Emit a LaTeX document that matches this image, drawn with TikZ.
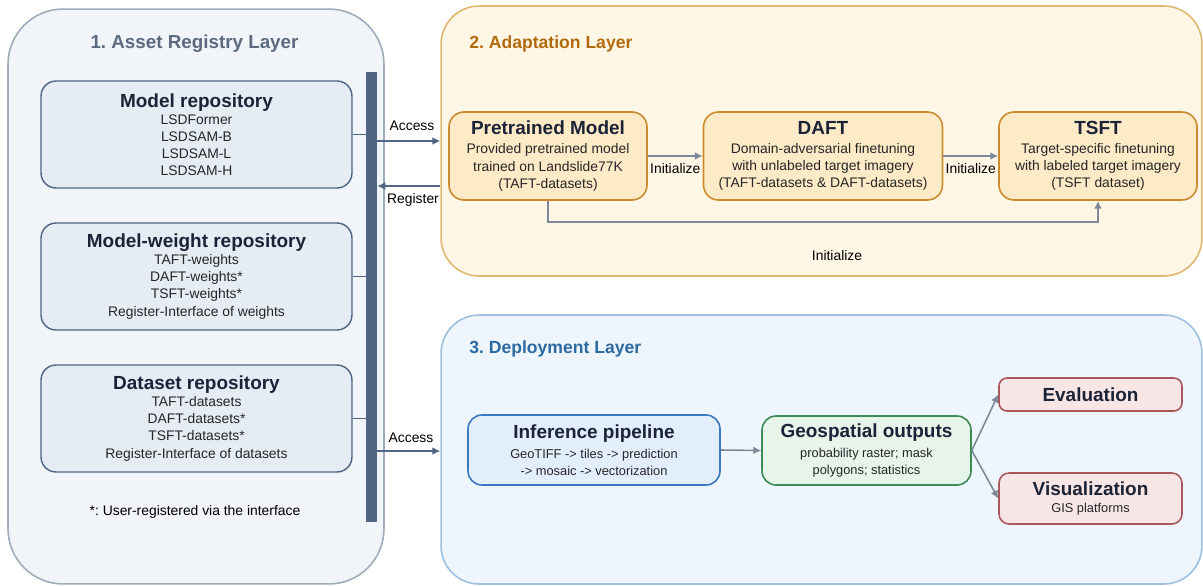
\documentclass[tikz,border=0pt]{standalone}
\usepackage{fontspec}
\setmainfont{Liberation Sans}
\usetikzlibrary{arrows.meta}
\frenchspacing

\definecolor{regfill}{HTML}{F1F5FA}
\definecolor{regline}{HTML}{9EABBB}
\definecolor{regtxt}{HTML}{5B6A7E}
\definecolor{repofill}{HTML}{E6ECF4}
\definecolor{slate}{HTML}{4F6582}
\definecolor{adfill}{HTML}{FFF6E6}
\definecolor{adline}{HTML}{E0B76E}
\definecolor{adtxt}{HTML}{B26B0B}
\definecolor{stepfill}{HTML}{FDEBC8}
\definecolor{stepline}{HTML}{CB8A2D}
\definecolor{depfill}{HTML}{EEF5FD}
\definecolor{depline}{HTML}{9DC0E0}
\definecolor{deptxt}{HTML}{2C6AA1}
\definecolor{inffill}{HTML}{E3EEFC}
\definecolor{infline}{HTML}{3B78BD}
\definecolor{geofill}{HTML}{E7F4EA}
\definecolor{geoline}{HTML}{3F8B58}
\definecolor{evfill}{HTML}{F8E6E6}
\definecolor{evline}{HTML}{A8585B}
\definecolor{headtxt}{HTML}{1C2337}
\definecolor{bodytxt}{HTML}{262626}
\definecolor{flowgray}{HTML}{7D8999}

\newcommand{\boxhead}[1]{{\fontsize{10.8}{13}\selectfont\bfseries\color{headtxt}#1}}
\newcommand{\smalltxt}{\fontsize{7.3}{9.6}\selectfont}

\tikzset{
  layerbox/.style={rounded corners=0.76cm, line width=0.9pt, inner sep=0pt, minimum width=15.22cm},
  repobox/.style={draw=slate, fill=repofill, rounded corners=0.3cm, line width=0.8pt,
    minimum width=6.22cm, minimum height=2.14cm, align=center, inner sep=0pt},
  stepbox/.style={draw=stepline, fill=stepfill, rounded corners=0.3cm, line width=0.9pt,
    minimum height=1.76cm, align=center, inner sep=0pt},
  deploybox/.style={rounded corners=0.28cm, line width=0.9pt, align=center, inner sep=0pt},
  access/.style={slate, line width=1.1pt, -{Latex[length=4.5pt,width=4.5pt]}},
  flow/.style={flowgray, line width=0.9pt, -{Latex[length=4.5pt,width=4.5pt]}},
  lbl/.style={text=black, inner sep=1pt}
}

\begin{document}
\begin{tikzpicture}[x=0.02cm, y=-0.02cm, font=\fontsize{7.9}{9.7}\selectfont, text=bodytxt]
\useasboundingbox (0,0) rectangle (1203,585);

\node[draw=regline, fill=regfill, rounded corners=1.1cm, line width=0.9pt, inner sep=0pt,
  minimum width=7.52cm, minimum height=11.5cm] (reg) at (196,296.5) {};
\node[layerbox, draw=adline, fill=adfill, minimum height=5.4cm] (adapt) at (821.5,141) {};
\node[layerbox, draw=depline, fill=depfill, minimum height=5.38cm] (deploy) at (821.5,449.5) {};

\node[text=regtxt, font=\fontsize{10.7}{13}\selectfont\bfseries] (regtitle) at (194.5,44) {1. Asset Registry Layer};
\node[text=adtxt, font=\fontsize{10}{12}\selectfont\bfseries, anchor=west, inner sep=0pt] (adtitle) at (469,44) {2. Adaptation Layer};
\node[text=deptxt, font=\fontsize{10}{12}\selectfont\bfseries, anchor=west, inner sep=0pt] (deptitle) at (469,349) {3. Deployment Layer};

\node[fill=slate, minimum width=0.22cm, minimum height=9cm, inner sep=0pt] (bar) at (371.5,297) {};

\node[repobox] (modelrepo) at (196.5,134.5) {\boxhead{Model repository}\\LSDFormer\\LSDSAM-B\\LSDSAM-L\\LSDSAM-H};
\node[repobox] (weightrepo) at (196.5,276.5) {\boxhead{Model-weight repository}\\TAFT-weights\\DAFT-weights*\\TSFT-weights*\\Register-Interface of weights};
\node[repobox] (datarepo) at (196.5,418.5) {\boxhead{Dataset repository}\\TAFT-datasets\\DAFT-datasets*\\TSFT-datasets*\\Register-Interface of datasets};
\node[text=black] (note) at (195,512) {*: User-registered via the interface};

\draw[slate, line width=0.7pt] (modelrepo.east) -- (modelrepo.east -| bar.west);
\draw[slate, line width=0.7pt] (weightrepo.east) -- (weightrepo.east -| bar.west);
\draw[slate, line width=0.7pt] (datarepo.east) -- (datarepo.east -| bar.west);

\node[stepbox, minimum width=3.96cm] (pre) at (548,156) {\boxhead{Pretrained Model}\\[1.2pt]Provided pretrained model\\trained on Landslide77K\\(TAFT-datasets)};
\node[stepbox, minimum width=4.78cm] (daft) at (823,156) {\boxhead{DAFT}\\[1.2pt]Domain-adversarial finetuning\\with unlabeled target imagery\\(TAFT-datasets \& DAFT-datasets)};
\node[stepbox, minimum width=3.96cm] (tsft) at (1098,156) {\boxhead{TSFT}\\[1.2pt]Target-specific finetuning\\with labeled target imagery\\(TSFT dataset)};

\draw[access] (bar.east |- 0,141) -- (adapt.west |- 0,141);
\node[lbl] (acclbl) at (412,126) {Access};
\draw[access] (adapt.west |- 0,186) -- (bar.east |- 0,186);
\node[lbl] (reglbl) at (413,200) {Register};
\draw[access] (bar.east |- 0,451) -- (deploy.west |- 0,451);
\node[lbl] (acclbltwo) at (411,438) {Access};

\draw[flow] (pre.east) -- (daft.west) node[lbl, midway, below=3pt] (initone) {Initialize};
\draw[flow] (daft.east) -- (tsft.west) node[lbl, midway, below=3pt] (inittwo) {Initialize};
\draw[flow] (pre.south) -- (pre.south |- 0,222) -| (tsft.south);
\node[lbl] (initthree) at (837,256) {Initialize};

\node[deploybox, draw=infline, fill=inffill, minimum width=5.04cm, minimum height=1.4cm] (infer) at (594,450)
  {\boxhead{Inference pipeline}\\[1.5pt]\smalltxt GeoTIFF -> tiles -> prediction\\\smalltxt -> mosaic -> vectorization};
\node[deploybox, draw=geoline, fill=geofill, minimum width=4.18cm, minimum height=1.38cm] (geo) at (866.5,450.5)
  {\boxhead{Geospatial outputs}\\[1.5pt]\smalltxt probability raster; mask\\\smalltxt polygons; statistics};
\node[deploybox, draw=evline, fill=evfill, rounded corners=0.16cm, minimum width=3.66cm, minimum height=0.66cm] (evalbox) at (1090.5,394.5)
  {\boxhead{Evaluation}};
\node[deploybox, draw=evline, fill=evfill, rounded corners=0.2cm, minimum width=3.66cm, minimum height=1.02cm] (visbox) at (1090.5,498.5)
  {\boxhead{Visualization}\\\smalltxt GIS platforms};

\draw[flow] (infer.east) -- (geo.west);
\draw[flow] (geo.east) -- (evalbox.west);
\draw[flow] (geo.east) -- (visbox.west);
\end{tikzpicture}
\end{document}
